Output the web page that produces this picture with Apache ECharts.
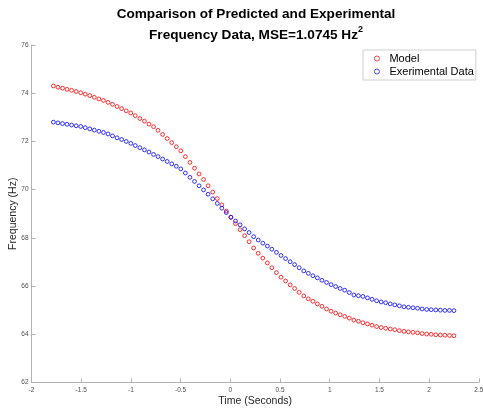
<!DOCTYPE html>
<html>
<head>
<meta charset="utf-8">
<script src="https://cdn.jsdelivr.net/npm/echarts@6/dist/echarts.min.js"></script>
<style>
html,body{margin:0;padding:0;background:#fff;}
#chart{width:483px;height:409px;}
</style>
</head>
<body>
<div id="chart"></div>
<script>
var titleLine1 = 'Comparison of Predicted and Experimental';
var titleLine2 = 'Frequency Data, MSE=1.0745 Hz';
var xAxisTitle = 'Time (Seconds)';
var yAxisTitle = 'Frequency (Hz)';
var seriesNames = ['Model', 'Exerimental Data'];

var timeValues = [
-1.780,-1.734,-1.688,-1.643,-1.597,-1.551,-1.505,-1.459,-1.414,-1.368,
-1.322,-1.276,-1.230,-1.185,-1.139,-1.093,-1.047,-1.001,-0.956,-0.910,
-0.864,-0.818,-0.772,-0.727,-0.681,-0.635,-0.589,-0.543,-0.498,-0.452,
-0.406,-0.360,-0.314,-0.269,-0.223,-0.177,-0.131,-0.085,-0.040,0.006,
0.052,0.098,0.144,0.189,0.235,0.281,0.327,0.373,0.418,0.464,
0.510,0.556,0.602,0.647,0.693,0.739,0.785,0.831,0.876,0.922,
0.968,1.014,1.060,1.105,1.151,1.197,1.243,1.289,1.334,1.380,
1.426,1.472,1.518,1.563,1.609,1.655,1.701,1.747,1.792,1.838,
1.884,1.930,1.976,2.021,2.067,2.113,2.159,2.205,2.250
];

var modelValues = [
74.30,74.25,74.21,74.16,74.12,74.07,74.02,73.96,73.90,73.83,
73.76,73.70,73.62,73.54,73.45,73.36,73.27,73.18,73.07,72.95,
72.84,72.72,72.61,72.46,72.29,72.12,71.95,71.78,71.61,71.37,
71.13,70.89,70.65,70.42,70.16,69.90,69.63,69.37,69.11,68.85,
68.59,68.34,68.09,67.84,67.58,67.36,67.16,66.96,66.76,66.56,
66.37,66.21,66.05,65.90,65.74,65.59,65.47,65.37,65.26,65.16,
65.05,64.96,64.88,64.81,64.74,64.67,64.59,64.54,64.48,64.43,
64.38,64.32,64.28,64.25,64.22,64.19,64.15,64.12,64.10,64.08,
64.06,64.03,64.01,64.00,63.98,63.97,63.96,63.95,63.94
];

var experimentalValues = [
72.80,72.77,72.74,72.71,72.68,72.65,72.62,72.57,72.52,72.47,
72.42,72.37,72.31,72.23,72.15,72.08,72.00,71.92,71.83,71.74,
71.65,71.56,71.46,71.37,71.27,71.17,71.07,70.97,70.86,70.69,
70.51,70.34,70.16,69.99,69.81,69.62,69.43,69.23,69.05,68.86,
68.70,68.54,68.37,68.22,68.05,67.91,67.78,67.66,67.53,67.40,
67.27,67.14,67.01,66.89,66.76,66.63,66.53,66.43,66.34,66.24,
66.15,66.06,65.98,65.90,65.83,65.73,65.63,65.60,65.57,65.51,
65.45,65.39,65.34,65.31,65.26,65.22,65.18,65.14,65.12,65.10,
65.08,65.05,65.03,65.02,65.01,65.00,64.99,64.99,64.98
];

var xTicks = {min: -2, max: 2.5, interval: 0.5};
var yTicks = {min: 62, max: 76, interval: 2};

function pairs(xs, ys) {
  var out = [];
  for (var i = 0; i < xs.length; i++) out.push([xs[i], ys[i]]);
  return out;
}

var FONT = '"Liberation Sans", Arial, Helvetica, sans-serif';
var chart = echarts.init(document.getElementById('chart'), null, {renderer: 'canvas'});

var axisCommon = {
  axisLine: {show: true, onZero: false, lineStyle: {color: '#b3b3b3', width: 1}},
  axisTick: {show: true, inside: true, length: 4, lineStyle: {color: '#b3b3b3'}},
  splitLine: {show: false},
  nameMoveOverlap: false,
  nameTextStyle: {fontFamily: FONT, fontSize: 10.5, color: '#262626'}
};

var option = {
  backgroundColor: '#ffffff',
  animation: false,
  graphic: [{
    type: 'text',
    x: 256,
    y: 4,
    style: {
      text: '{a|' + titleLine1 + '}\n{a|' + titleLine2 + '}{s|2}',
      align: 'center',
      verticalAlign: 'top',
      rich: {
        a: {fontFamily: FONT, fontSize: 13.6, fontWeight: 'bold', lineHeight: 21, fill: '#000', color: '#000'},
        s: {fontFamily: FONT, fontSize: 9, fontWeight: 'bold', lineHeight: 12, verticalAlign: 'top', fill: '#000', color: '#000'}
      }
    }
  }],
  grid: {left: 31.5, right: 4.2, top: 45, bottom: 26.5, containLabel: false, outerBoundsMode: 'none'},
  legend: {
    orient: 'vertical',
    left: 363,
    top: 50,
    data: seriesNames,
    icon: 'circle',
    itemWidth: 5,
    itemHeight: 5,
    itemGap: 2,
    padding: [3, 2, 3, 11],
    borderColor: '#cfcfcf',
    borderWidth: 1,
    backgroundColor: '#ffffff',
    itemStyle: {borderWidth: 0.9},
    textStyle: {fontFamily: FONT, fontSize: 11, color: '#000', lineHeight: 11, padding: [0, 0, 0, 5]}
  },
  xAxis: Object.assign({}, axisCommon, {
    type: 'value',
    min: xTicks.min, max: xTicks.max, interval: xTicks.interval,
    name: xAxisTitle,
    nameLocation: 'middle',
    nameGap: 13,
    axisLabel: {fontFamily: FONT, fontSize: 6.5, color: '#4d4d4d', margin: 4}
  }),
  yAxis: Object.assign({}, axisCommon, {
    type: 'value',
    min: yTicks.min, max: yTicks.max, interval: yTicks.interval,
    name: yAxisTitle,
    nameLocation: 'middle',
    nameGap: 13,
    axisLabel: {fontFamily: FONT, fontSize: 6.5, color: '#4d4d4d', margin: 3}
  }),
  series: [
    {
      name: seriesNames[0],
      type: 'scatter',
      data: pairs(timeValues, modelValues),
      symbol: 'circle',
      symbolSize: 3.8,
      itemStyle: {color: 'rgba(255,0,0,0)', borderColor: '#ff0000', borderWidth: 1}
    },
    {
      name: seriesNames[1],
      type: 'scatter',
      data: pairs(timeValues, experimentalValues),
      symbol: 'circle',
      symbolSize: 3.8,
      itemStyle: {color: 'rgba(0,0,255,0)', borderColor: '#0000ff', borderWidth: 1}
    }
  ]
};
chart.setOption(option);
</script>
</body>
</html>
